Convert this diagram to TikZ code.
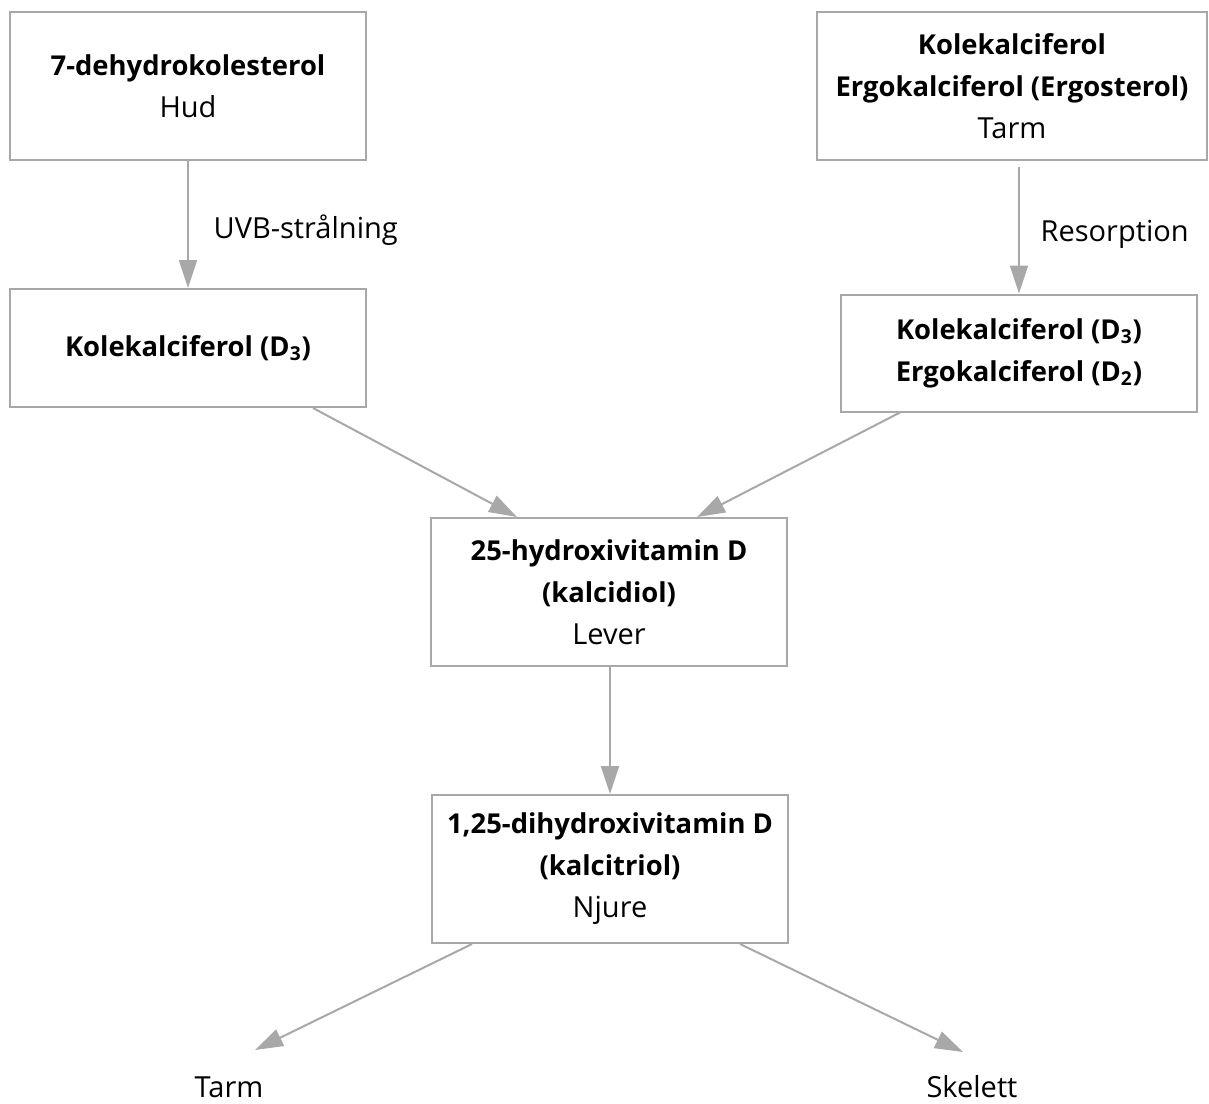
\documentclass[tikz,border=0pt]{standalone}
\usepackage{fontspec}
\setmainfont{Open Sans}
\usetikzlibrary{shapes,arrows.meta,positioning}

\definecolor{linegray}{RGB}{168,168,168}
\newcommand{\hd}[1]{{\fontsize{13.7}{21}\selectfont\bfseries #1}}

\begin{document}
\begin{tikzpicture}[x=0.5pt, y=-0.5pt, >={Triangle[length=14pt,width=9pt]},
    box/.style={rectangle, draw=linegray, line width=1pt, align=center,
        minimum width=178pt, minimum height=74pt, inner sep=2pt,
        font=\fontsize{14.5}{21}\selectfont},
    flow/.style={->, draw=linegray, fill=linegray, line width=1pt},
    lbl/.style={font=\fontsize{14.5}{21}\selectfont}]
    \useasboundingbox (0,0) rectangle (1209,1103);

    % Main nodes
    \node (dehydro) [box] at (188,86) {\hd{7-dehydrokolesterol}\\Hud};
    \node (food) [box, minimum width=195pt] at (1012,86) {\hd{Kolekalciferol}\\\hd{Ergokalciferol (Ergosterol)}\\Tarm};
    \node (kole) [box, minimum height=59pt] at (188,348) {\hd{Kolekalciferol (D\textsubscript{3})}};
    \node (koleergo) [box, minimum height=58.5pt] at (1019,353) {\hd{Kolekalciferol (D\textsubscript{3})}\\\hd{Ergokalciferol (D\textsubscript{2})}};
    \node (kalcidiol) [box] at (609,592) {\hd{25-hydroxivitamin D}\\\hd{(kalcidiol)}\\Lever};
    \node (kalcitriol) [box] at (610,869) {\hd{1,25-dihydroxivitamin D}\\\hd{(kalcitriol)}\\Njure};

    % Targets
    \node (tarm) [lbl, inner sep=0pt] at (229,1087) {Tarm};
    \node (skelett) [lbl, inner sep=0pt] at (972,1087) {Skelett};

    % Connections
    \draw[flow] (dehydro) -- node[lbl, right=9pt, yshift=-3pt] {UVB-strålning} (kole);
    \draw[flow] ([yshift=-3pt]food.south -| koleergo.north) -- node[lbl, right=7pt, yshift=-2pt] {Resorption} (koleergo);
    \draw[flow] ([xshift=62.5pt]kole.south) -- ([xshift=-46pt]kalcidiol.north);
    \draw[flow] ([xshift=-59.5pt]koleergo.south) -- ([xshift=44pt]kalcidiol.north);
    \draw[flow] ([xshift=0.5pt]kalcidiol.south) -- (kalcitriol);
    \draw[flow] ([xshift=-69pt]kalcitriol.south) -- ([xshift=13pt, yshift=18.5pt]tarm.center);
    \draw[flow] ([xshift=65pt]kalcitriol.south) -- ([xshift=-4.5pt, yshift=17.5pt]skelett.center);
\end{tikzpicture}
\end{document}
